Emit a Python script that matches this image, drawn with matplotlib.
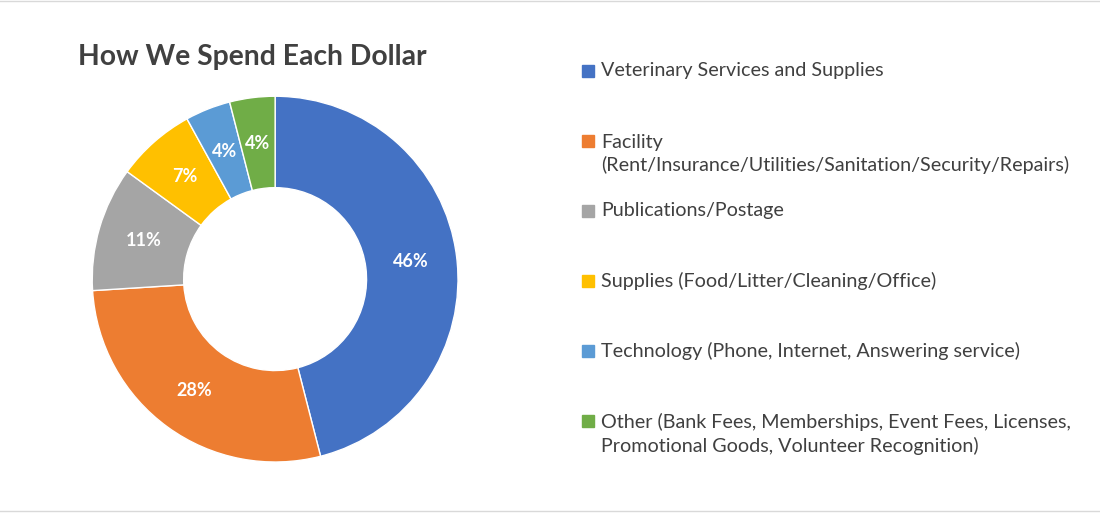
import matplotlib
matplotlib.use("Agg")
import matplotlib.pyplot as plt
from matplotlib.patches import Rectangle
from matplotlib.lines import Line2D

categories = ["Veterinary Services and Supplies",
              "Facility\n(Rent/Insurance/Utilities/Sanitation/Security/Repairs)",
              "Publications/Postage",
              "Supplies (Food/Litter/Cleaning/Office)",
              "Technology (Phone, Internet, Answering service)",
              "Other (Bank Fees, Memberships, Event Fees, Licenses,\nPromotional Goods, Volunteer Recognition)"]
values = [46, 28, 11, 7, 4, 4]
colors = ["#4472C4", "#ED7D31", "#A5A5A5", "#FFC000", "#5B9BD5", "#70AD47"]

plt.rcParams["font.family"] = "Lato"
fig = plt.figure(figsize=(11, 5.13), dpi=100)
ax = fig.add_axes([0.0836, 0.0994, 0.333, 0.713])
ax.pie(values, colors=colors, startangle=90, counterclock=False,
       wedgeprops=dict(width=0.5, edgecolor="white", linewidth=1),
       autopct=lambda p: f"{p:.0f}%", pctdistance=0.75,
       textprops=dict(color="white", fontsize=13, fontweight="bold"))
ax.set_xlim(-1, 1)
ax.set_ylim(-1, 1)
ax.set_aspect("equal")

fig.text(78/1100, 1-57/513, "How We Spend Each Dollar", fontsize=20.3,
         fontweight="bold", color="#404040", va="center", ha="left")

ys = [71, 154, 211, 281, 351, 434]
for cat, col, y in zip(categories, colors, ys):
    yf = 1 - y/513
    nlines = cat.count("\n") + 1
    sq_y = yf + (0.0255 if nlines == 2 else 0)
    fig.patches.append(Rectangle((582/1100, sq_y - 6/513), 12/1100, 12/513,
                                 color=col, transform=fig.transFigure))
    fig.text(601/1100, yf, cat, fontsize=14.2, color="#404040", va="center",
             ha="left", linespacing=1.35)

fig.lines.append(Line2D([0, 1], [1-1/513, 1-1/513], color="#D9D9D9", lw=1, transform=fig.transFigure))
fig.lines.append(Line2D([0, 1], [2/513, 2/513], color="#D9D9D9", lw=1, transform=fig.transFigure))
fig.savefig("out.png", dpi=100)
